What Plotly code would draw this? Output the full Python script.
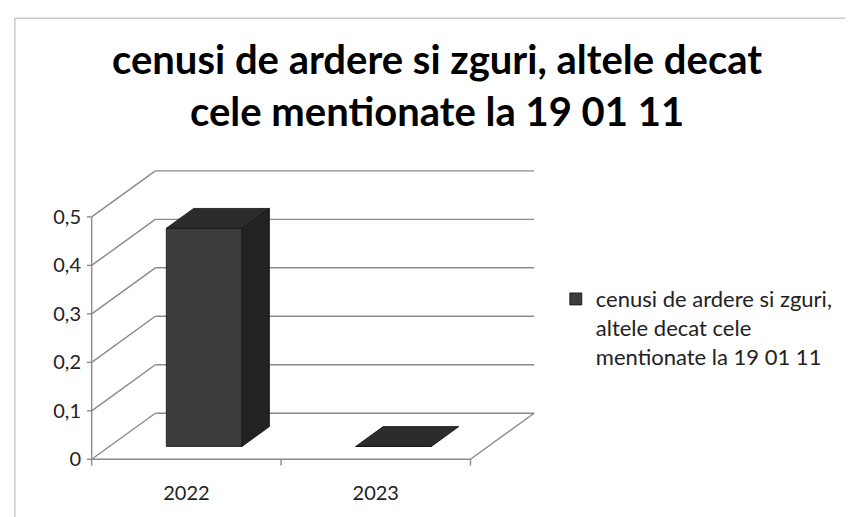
import plotly.graph_objects as go

# ---- data ----
categories = ["2022", "2023"]
values = [0.45, 0.0]
y_ticks = [0, 0.1, 0.2, 0.3, 0.4, 0.5]
series_name = "cenusi de ardere si zguri,<br>altele decat cele<br>mentionate la 19 01 11"
title_text = "cenusi de ardere si zguri, altele decat<br>cele mentionate la 19 01 11"

# ---- pseudo-3D geometry (style) ----
DX, DY = 0.336, 0.095      # depth offset of back wall (x units, y units)
F, D = 0.28, 0.43          # bar front position / bar depth as fraction of full depth
W = 0.40                   # bar width
GRID = "#8a8a8a"
FRONT, TOP, SIDE = "#3c3c3c", "#2c2c2c", "#222222"
FONT = "Lato"

n = len(categories)
centers = [i + 0.5 for i in range(n)]
ymax = max(y_ticks)

fig = go.Figure()

# front faces as real bars
fig.add_trace(go.Bar(
    x=[c + F * DX for c in centers], y=values, base=F * DY, width=W,
    marker=dict(color=FRONT, line=dict(color="#111111", width=0.8)),
    name=series_name, showlegend=True, hoverinfo="skip"))

# top and side faces
for c, v in zip(centers, values):
    xl, xr = c - W / 2 + F * DX, c + W / 2 + F * DX
    y0 = F * DY
    top_x = [xl, xr, xr + D * DX, xl + D * DX, xl]
    top_y = [v + y0, v + y0, v + y0 + D * DY, v + y0 + D * DY, v + y0]
    fig.add_trace(go.Scatter(x=top_x, y=top_y, fill="toself", fillcolor=TOP, mode="lines",
                             line=dict(color="#111111", width=0.8), showlegend=False,
                             hoverinfo="skip"))
    if v > 0:
        side_x = [xr, xr, xr + D * DX, xr + D * DX, xr]
        side_y = [y0, v + y0, v + y0 + D * DY, y0 + D * DY, y0]
        fig.add_trace(go.Scatter(x=side_x, y=side_y, fill="toself", fillcolor=SIDE, mode="lines",
                                 line=dict(color="#111111", width=0.8), showlegend=False,
                                 hoverinfo="skip"))

# frame (back wall gridlines, side-wall diagonals, floor, axes) as shapes below traces
shapes = []
def seg(x0, y0, x1, y1, w=1.4, color=GRID):
    shapes.append(dict(type="line", xref="x", yref="y", x0=x0, y0=y0, x1=x1, y1=y1,
                       line=dict(color=color, width=w), layer="below"))

for t in y_ticks:
    seg(DX, t + DY, n + DX, t + DY)          # back wall gridline
    seg(0, t, DX, t + DY)                    # left wall diagonal
    seg(-0.025, t, 0, t)                     # tick mark
seg(0, 0, 0, ymax)                           # front vertical axis
seg(0, 0, n, 0)                              # floor front edge
seg(n, 0, n + DX, DY)                        # floor right edge
for k in range(n + 1):
    seg(k, 0, k, -0.013)                     # category boundary ticks

# outer chart border
shapes.append(dict(type="rect", xref="paper", yref="paper", x0=-0.158, x1=1.711, y0=-0.2, y1=1.488,
                   line=dict(color="#b0b0b0", width=1), layer="below"))

fig.update_layout(
    width=853, height=517,
    margin=dict(l=78, r=325, t=158, b=56),
    paper_bgcolor="white", plot_bgcolor="white",
    separators=",.",
    shapes=shapes,
    title=dict(text=title_text, x=0.503, xanchor="center", y=0.872, yanchor="top",
               font=dict(family=FONT, size=40, color="black", weight="bold")),
    xaxis=dict(range=[-0.03, n + DX + 0.01], showgrid=False, zeroline=False, showline=False,
               tickvals=centers, ticktext=categories, ticks="", ticklabelstandoff=10,
               tickfont=dict(family=FONT, size=20, color="#222222"), fixedrange=True),
    yaxis=dict(range=[-0.02, ymax + DY + 0.01], showgrid=False, zeroline=False, showline=False,
               tickvals=y_ticks, ticks="", ticklabelstandoff=4,
               tickfont=dict(family=FONT, size=20, color="#222222"), fixedrange=True),
    legend=dict(x=1.044, y=0.63, xanchor="left", yanchor="top", valign="top",
                font=dict(family=FONT, size=22, color="#222222"),
                bgcolor="rgba(0,0,0,0)", itemwidth=30),
    showlegend=True,
)

fig.write_html("out.html")
